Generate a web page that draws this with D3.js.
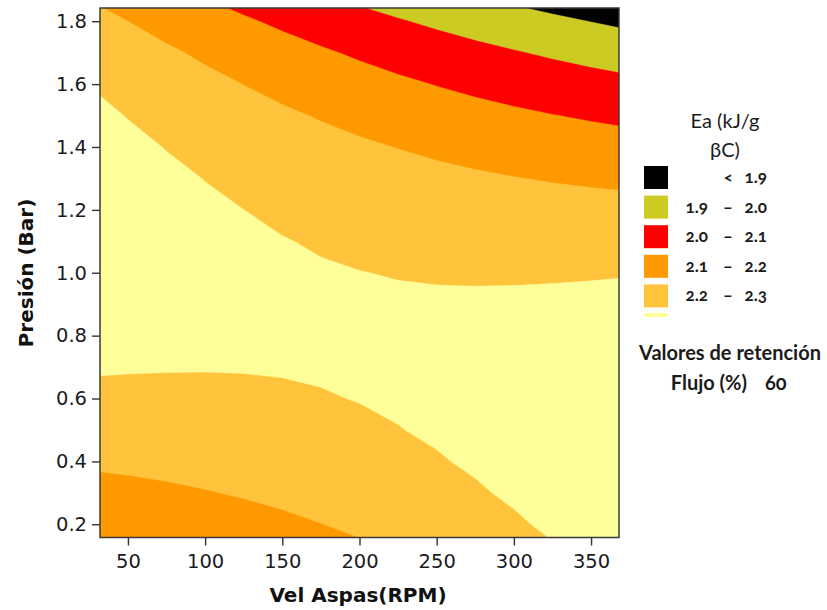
<!DOCTYPE html>
<html>
<head>
<meta charset="utf-8">
<script src="https://cdn.jsdelivr.net/npm/d3@7"></script>
<style>
  body { margin: 0; background: #fff; }
  .axis text { font-family: "DejaVu Sans", sans-serif; font-size: 19.5px; fill: #1b1b24; }
  .axis line { stroke: #333; stroke-width: 1.4px; }
  .titulo { font-family: "DejaVu Sans", sans-serif; font-size: 20px; font-weight: bold; fill: #111; }
  .ley { font-family: Lato, "Open Sans", sans-serif; font-size: 20px; font-weight: bold; fill: #1b1b1b;
         font-variant-numeric: oldstyle-nums; }
</style>
</head>
<body>
<div id="chart"></div>
<script>
// malla: Vel Aspas (RPM) x Presion (Bar) -> Ea
var rpm = [25, 50, 75, 100, 125, 150, 175, 200, 225, 250, 275, 300, 325, 350, 375]
var presion = [0.1, 0.2, 0.3, 0.4, 0.5, 0.6, 0.7, 0.8, 0.9, 1.0, 1.1, 1.2, 1.3, 1.4, 1.5, 1.6, 1.7, 1.8, 1.9]
var ea = [
  [2.0674, 2.0805, 2.0946, 2.1097, 2.1258, 2.1428, 2.1608, 2.1798, 2.1998, 2.2208, 2.2427, 2.2656, 2.2895, 2.3144, 2.3403],
  [2.1212, 2.1317, 2.1432, 2.1556, 2.1691, 2.1835, 2.1989, 2.2152, 2.2326, 2.2509, 2.2703, 2.2906, 2.3118, 2.3341, 2.3573],
  [2.1696, 2.1774, 2.1863, 2.1961, 2.2069, 2.2187, 2.2314, 2.2452, 2.2599, 2.2756, 2.2923, 2.3100, 2.3286, 2.3483, 2.3689],
  [2.2124, 2.2176, 2.2238, 2.2310, 2.2392, 2.2484, 2.2585, 2.2696, 2.2817, 2.2948, 2.3089, 2.3239, 2.3399, 2.3569, 2.3749],
  [2.2497, 2.2523, 2.2559, 2.2605, 2.2660, 2.2726, 2.2801, 2.2886, 2.2981, 2.3085, 2.3200, 2.3324, 2.3458, 2.3601, 2.3755],
  [2.2816, 2.2815, 2.2825, 2.2845, 2.2874, 2.2913, 2.2962, 2.3020, 2.3089, 2.3167, 2.3255, 2.3353, 2.3461, 2.3579, 2.3706],
  [2.3079, 2.3053, 2.3036, 2.3029, 2.3032, 2.3045, 2.3068, 2.3100, 2.3142, 2.3194, 2.3256, 2.3328, 2.3409, 2.3501, 2.3602],
  [2.3288, 2.3235, 2.3192, 2.3159, 2.3136, 2.3122, 2.3119, 2.3125, 2.3141, 2.3167, 2.3202, 2.3248, 2.3303, 2.3368, 2.3443],
  [2.3441, 2.3363, 2.3293, 2.3234, 2.3185, 2.3145, 2.3115, 2.3095, 2.3085, 2.3084, 2.3093, 2.3113, 2.3142, 2.3180, 2.3229],
  [2.3540, 2.3435, 2.3340, 2.3254, 2.3178, 2.3112, 2.3056, 2.3010, 2.2973, 2.2947, 2.2930, 2.2923, 2.2925, 2.2938, 2.2960],
  [2.3584, 2.3453, 2.3331, 2.3219, 2.3117, 2.3025, 2.2943, 2.2870, 2.2807, 2.2754, 2.2711, 2.2678, 2.2654, 2.2640, 2.2636],
  [2.3573, 2.3416, 2.3268, 2.3130, 2.3001, 2.2883, 2.2774, 2.2675, 2.2586, 2.2507, 2.2437, 2.2378, 2.2328, 2.2288, 2.2258],
  [2.3507, 2.3323, 2.3149, 2.2985, 2.2830, 2.2686, 2.2551, 2.2425, 2.2310, 2.2205, 2.2109, 2.2023, 2.1947, 2.1881, 2.1824],
  [2.3387, 2.3176, 2.2976, 2.2785, 2.2604, 2.2433, 2.2272, 2.2121, 2.1979, 2.1847, 2.1726, 2.1613, 2.1511, 2.1418, 2.1336],
  [2.3211, 2.2974, 2.2748, 2.2531, 2.2324, 2.2126, 2.1939, 2.1761, 2.1593, 2.1435, 2.1287, 2.1149, 2.1020, 2.0901, 2.0792],
  [2.2980, 2.2717, 2.2465, 2.2221, 2.1988, 2.1765, 2.1551, 2.1347, 2.1153, 2.0968, 2.0794, 2.0629, 2.0474, 2.0329, 2.0194],
  [2.2695, 2.2406, 2.2126, 2.1857, 2.1598, 2.1348, 2.1108, 2.0878, 2.0657, 2.0447, 2.0246, 2.0055, 1.9874, 1.9702, 1.9541],
  [2.2314, 2.1999, 2.1694, 2.1398, 2.1112, 2.0836, 2.0570, 2.0313, 2.0067, 1.9830, 1.9603, 1.9386, 1.9178, 1.8981, 1.8793],
  [2.1839, 2.1497, 2.1166, 2.0844, 2.0532, 2.0229, 1.9937, 1.9654, 1.9381, 1.9118, 1.8865, 1.8622, 1.8388, 1.8164, 1.7950]
]

var niveles = [1.9, 2.0, 2.1, 2.2, 2.3]
var colores = ['#000000', '#cbcb24', '#ff0000', '#ff9900', '#ffc33c', '#ffff99']
var rangos = [['', '<', '1.9'], ['1.9', '\u2013', '2.0'], ['2.0', '\u2013', '2.1'], ['2.1', '\u2013', '2.2'], ['2.2', '\u2013', '2.3']]
var xTicks = [50, 100, 150, 200, 250, 300, 350]
var yTicks = [0.2, 0.4, 0.6, 0.8, 1.0, 1.2, 1.4, 1.6, 1.8]

var w = 827
  , h = 610
  , x0 = 100
  , x1 = 619
  , y0 = 8
  , y1 = 537.5

var svg = d3.select('#chart').append('svg').attr('width', w).attr('height', h)

var x = d3.scaleLinear().domain([31.9, 368.1]).range([x0, x1])
var y = d3.scaleLinear().domain([0.158, 1.842]).range([y1, y0])

// indices de la malla -> valores
var gx = d3.scaleLinear().domain([0.5, rpm.length - 0.5]).range([rpm[0], rpm[rpm.length - 1]])
var gy = d3.scaleLinear().domain([0.5, presion.length - 0.5]).range([presion[0], presion[presion.length - 1]])

var proj = d3.geoTransform({
  point: function (a, b) { this.stream.point(x(gx(a)), y(gy(b))) }
})
var path = d3.geoPath(proj)

var valores = [].concat.apply([], ea)
var umbrales = [d3.min(valores)].concat(niveles)

var contornos = d3.contours()
  .size([rpm.length, presion.length])
  .thresholds(umbrales)(valores)

svg.append('clipPath').attr('id', 'area')
  .append('rect')
  .attr('x', x0).attr('y', y0)
  .attr('width', x1 - x0).attr('height', y1 - y0)

svg.append('g').attr('clip-path', 'url(#area)')
  .selectAll('path').data(contornos)
  .enter().append('path')
  .attr('d', path)
  .attr('fill', function (d, i) { return colores[i] })
  .attr('stroke', function (d, i) { return colores[i] })
  .attr('stroke-width', 0.5)

// ejes
var ax = svg.append('g').attr('class', 'axis')
  .attr('transform', 'translate(0,' + y1 + ')')
  .call(d3.axisBottom(x).tickValues(xTicks).tickSize(8).tickPadding(9))
ax.select('.domain').remove()

var ay = svg.append('g').attr('class', 'axis')
  .attr('transform', 'translate(' + x0 + ',0)')
  .call(d3.axisLeft(y).tickValues(yTicks).tickFormat(d3.format('.1f')).tickSize(8).tickPadding(5))
ay.select('.domain').remove()

svg.append('rect')
  .attr('x', x0).attr('y', y0)
  .attr('width', x1 - x0).attr('height', y1 - y0)
  .attr('fill', 'none').attr('stroke', '#3a3a3a').attr('stroke-width', 1.5)

svg.append('text').attr('class', 'titulo')
  .attr('x', 358).attr('y', 602).attr('text-anchor', 'middle')
  .text('Vel Aspas(RPM)')

svg.append('text').attr('class', 'titulo')
  .attr('transform', 'translate(33,273) rotate(-90)')
  .attr('text-anchor', 'middle')
  .text('Presi\u00f3n (Bar)')

// leyenda
var ley = svg.append('g')

ley.append('text').attr('class', 'ley').attr('x', 725).attr('y', 128)
  .attr('text-anchor', 'middle').style('font-weight', 'normal').text('Ea (kJ/g')
ley.append('text').attr('class', 'ley').attr('x', 725).attr('y', 157)
  .attr('text-anchor', 'middle').style('font-weight', 'normal').text('\u03b2C)')

var fila = ley.selectAll('g.fila').data(rangos)
  .enter().append('g').attr('class', 'fila')
  .attr('transform', function (d, i) { return 'translate(0,' + (166 + i * 29.6) + ')' })

fila.append('rect')
  .attr('x', 644).attr('width', 24).attr('height', 23)
  .attr('fill', function (d, i) { return colores[i] })

fila.append('text').attr('class', 'ley').attr('x', 708).attr('y', 17)
  .attr('text-anchor', 'end').style('font-size', '17px').text(function (d) { return d[0] })
fila.append('text').attr('class', 'ley').attr('x', 728).attr('y', 17)
  .attr('text-anchor', 'middle').style('font-size', '17px').text(function (d) { return d[1] })
fila.append('text').attr('class', 'ley').attr('x', 767).attr('y', 17)
  .attr('text-anchor', 'end').style('font-size', '17px').text(function (d) { return d[2] })

ley.append('rect')
  .attr('x', 644).attr('y', 313).attr('width', 24).attr('height', 4)
  .attr('fill', colores[5])

ley.append('text').attr('class', 'ley').attr('x', 730).attr('y', 360)
  .attr('text-anchor', 'middle').text('Valores de retenci\u00f3n')
ley.append('text').attr('class', 'ley').attr('x', 747).attr('y', 390)
  .attr('text-anchor', 'end').text('Flujo (%)')
ley.append('text').attr('class', 'ley').attr('x', 765).attr('y', 390)
  .text('60')
</script>
</body>
</html>
